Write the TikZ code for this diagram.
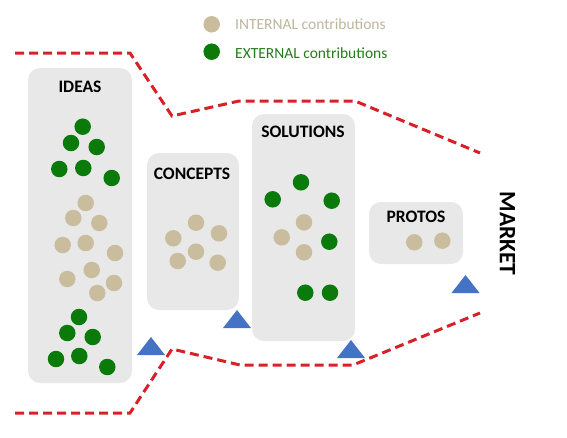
\documentclass[tikz,border=0pt]{standalone}
\usepackage{fontspec}
\setmainfont{Carlito}
\usepackage{xcolor}
\usepackage{tikz}
\definecolor{boxgray}{HTML}{E8E8E8}
\definecolor{beigedot}{HTML}{C9BD9D}
\definecolor{greendot}{HTML}{0A7A0A}
\definecolor{beigetext}{HTML}{BDB59C}
\definecolor{greentext}{HTML}{257A1A}
\definecolor{funnelred}{HTML}{D72027}
\definecolor{triblue}{HTML}{4472C4}
\tikzset{
    stage/.style = {rectangle, rounded corners=12pt, fill=boxgray, inner sep=0pt},
    title/.style = {font=\bfseries\fontsize{17.5}{19}\selectfont, inner sep=0pt},
    legend/.style = {font=\fontsize{15.5}{17}\selectfont, inner sep=0pt, anchor=west},
    dot/.style = {circle, inner sep=0pt, minimum size=16.5pt},
    in_dot/.style = {dot, fill=beigedot},
    ex_dot/.style = {dot, fill=greendot},
    funnel/.style = {draw=funnelred, line width=3pt, dash pattern=on 9pt off 5pt},
    gate/.style = {fill=triblue}
}
% gate marker: base centre x, base y
\newcommand{\gatemark}[2]{\fill[gate] ({#1-14},#2) -- ({#1+14},#2) -- (#1,{#2-18}) -- cycle;}

\begin{document}
\begin{tikzpicture}[x=1pt, y=-1pt]
    \useasboundingbox (0,0) rectangle (567,437);

    % legend
    \node[in_dot] (key-in) at (211.7,24.3) {};
    \node[ex_dot] (key-ex) at (211.7,51.7) {};
    \node[legend, text=beigetext] (key-in-text) at (235,24) {INTERNAL contributions};
    \node[legend, text=greentext] (key-ex-text) at (235,53) {EXTERNAL contributions};

    % funnel
    \draw[funnel] (15,53) -- (130,53) -- (172,116) -- (239,101) -- (355,101) -- (480,153);
    \draw[funnel] (15,413) -- (130,413) -- (172,349) -- (240,365) -- (353,365) -- (480,313);

    % stages
    \node[stage, minimum width=104pt, minimum height=315pt] (ideas) at (80,225.5) {};
    \node[stage, minimum width=92pt, minimum height=157pt] (concepts) at (193,231.5) {};
    \node[stage, minimum width=103pt, minimum height=227pt] (solutions) at (303.5,227.5) {};
    \node[stage, minimum width=94pt, minimum height=62pt] (protos) at (416,233) {};

    \node[title] (ideas-title) at (80,87) {IDEAS};
    \node[title] (concepts-title) at (192,174) {CONCEPTS};
    \node[title] (solutions-title) at (303,132) {SOLUTIONS};
    \node[title] (protos-title) at (416,217) {PROTOS};
    \node[title, font=\bfseries\fontsize{23.5}{25}\selectfont, rotate=-90] (market) at (507.5,233.5) {MARKET};

    % gates
    \gatemark{151}{355}
    \gatemark{237}{328}
    \gatemark{351}{358}
    \gatemark{465.5}{293}

    % ideas
    \foreach \x/\y [count=\n] in {82.7/126.7, 71/143, 96.7/147, 59.3/169, 83.3/168, 111.7/178,
        79/317, 67.3/333, 92.7/337, 56/359, 79.3/356, 107.3/367}
        \node[ex_dot] (ideas-ex-\n) at (\x,\y) {};
    \foreach \x/\y [count=\n] in {85.7/203, 73.3/218, 99.3/223, 62.7/245, 85.7/243,
        115/253, 91.7/270, 67.3/279, 114/283, 97.3/293}
        \node[in_dot] (ideas-in-\n) at (\x,\y) {};

    % concepts
    \foreach \x/\y [count=\n] in {196/222.7, 173.3/238.3, 219/233.3, 196/251.7, 177.7/261, 217.7/262.7}
        \node[in_dot] (concepts-in-\n) at (\x,\y) {};

    % solutions
    \foreach \x/\y [count=\n] in {301/182.3, 272.7/199.3, 331.7/200.7, 329.3/241.7, 305.3/292.7, 330/292.7}
        \node[ex_dot] (solutions-ex-\n) at (\x,\y) {};
    \foreach \x/\y [count=\n] in {304/222.3, 281.7/237.3, 304/252.3}
        \node[in_dot] (solutions-in-\n) at (\x,\y) {};

    % protos
    \node[in_dot] (protos-in-1) at (414.3,242.3) {};
    \node[in_dot] (protos-in-2) at (442.3,240.7) {};
\end{tikzpicture}
\end{document}
